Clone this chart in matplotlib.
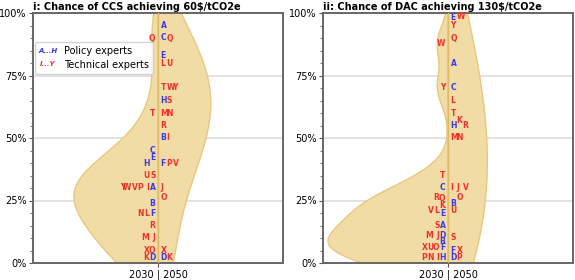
import matplotlib
matplotlib.use("Agg")
import matplotlib.pyplot as plt
from matplotlib.legend_handler import HandlerBase
from matplotlib.text import Text
import numpy as np

# expert letters; G gave no answer in either question
experts = list("ABCDEFGHIJKLMNOPQRSTUVWXY")
policy = set("ABCDEFGH")

ccs_2030 = [30, 24, 45, 0, 42, 20, None, 40, 30, 10, 0, 20, 10, 20, 5, 30, 90, 15, 35, 60, 35, 30, 30, 5, 30]
ccs_2050 = [95, 50, 90, 0, 83, 40, None, 65, 50, 30, 0, 80, 60, 60, 26, 40, 90, 55, 65, 70, 80, 40, 70, 5, 70]
dac_2030 = [15, 8.5, 30, 11, 20, 6, None, 0, 0, 11, 23, 21, 11, 0, 6, 0, 26, 26, 15, 35, 6, 21, 88, 6, 70]
dac_2050 = [80, 24, 70, 0, 98, 5, None, 55, 30, 30, 57, 65, 50, 50, 26, 0, 90, 55, 10, 60, 21, 30, 100, 5, 95]

titles = ["i: Chance of CCS achieving 60\\$/tCO2e", "ii: Chance of DAC achieving 130\\$/tCO2e"]

# smoothing per half (2030, 2050) for each panel
bw_adjust = [(1.15, 1.3), (0.62, 1.5)]

BLUE = "#3a3ae8"
RED = "#f2302a"
FILL = "#f1dca6"
EDGE = "#e8c77f"


def kde(vals, grid, adjust=1.0):
    v = np.asarray([x for x in vals if x is not None], dtype=float)
    bw = adjust * v.std(ddof=1) * len(v) ** (-1 / 5)
    z = (grid[:, None] - v[None, :]) / bw
    return np.exp(-0.5 * z**2).sum(axis=1) / (len(v) * bw * np.sqrt(2 * np.pi))


def place_letters(ax, vals, side, thresh=2.2):
    slots = []  # placed y values per horizontal slot
    for name, v in zip(experts, vals):
        if v is None:
            continue
        y = min(max(v, 2), 98.5)
        k = 0
        while True:
            if k == len(slots):
                slots.append([])
            if all(abs(y - o) >= thresh for o in slots[k]):
                slots[k].append(y)
                break
            k += 1
        x = side * (0.02 + 0.048 * k)
        ax.text(x, y, name, color=BLUE if name in policy else RED,
                ha="left" if side > 0 else "right", va="center",
                fontsize=5.5, fontweight="bold", zorder=4)


class LetterKey:
    def __init__(self, text, color):
        self.text = text
        self.color = color


class LetterHandler(HandlerBase):
    def create_artists(self, legend, orig, xdescent, ydescent, width, height, fontsize, trans):
        t = Text(width / 2 - xdescent, height / 2 - ydescent, orig.text, color=orig.color,
                 ha="center", va="center", fontsize=5, fontweight="bold",
                 fontstyle="italic", transform=trans)
        return [t]


grid = np.linspace(-40, 140, 600)
panels = [(ccs_2030, ccs_2050), (dac_2030, dac_2050)]
dens = [(kde(a, grid, bw_adjust[i][0]), kde(b, grid, bw_adjust[i][1]))
        for i, (a, b) in enumerate(panels)]
scale = 0.96 / max(d.max() for pair in dens for d in pair)

fig = plt.figure(figsize=(5.75, 2.8), dpi=100)
lefts = [33 / 575, 323 / 575]
for i, ((d30, d50), (k30, k50)) in enumerate(zip(panels, dens)):
    ax = fig.add_axes([lefts[i], 17 / 280, 250 / 575, 250 / 280])
    ax.fill_betweenx(grid, 0, -k30 * scale, facecolor=FILL, edgecolor=EDGE, lw=1, zorder=2)
    ax.fill_betweenx(grid, 0, k50 * scale, facecolor=FILL, edgecolor=EDGE, lw=1, zorder=2)
    ax.axvline(0, color="#e0ba66", lw=1, zorder=3)
    for yy in (25, 50, 75):
        ax.axhline(yy, color="#dddddd", lw=1.2, zorder=1)
    place_letters(ax, d30, -1)
    place_letters(ax, d50, 1)

    ax.set_xlim(-1, 1)
    ax.set_ylim(0, 100)
    ax.set_xticks([0])
    ax.set_xticklabels(["2030 | 2050"], fontsize=7)
    ax.set_yticks([0, 25, 50, 75, 100])
    ax.set_yticklabels([f"{t}%" for t in (0, 25, 50, 75, 100)], fontsize=7)
    ax.set_yticks(np.arange(0, 101, 5), minor=True)
    ax.tick_params(axis="both", length=3, width=0.8, color="#555555", pad=1.5)
    ax.tick_params(axis="y", which="minor", length=2, width=0.6, color="#555555")
    for s in ax.spines.values():
        s.set_color("#666666")
        s.set_linewidth(1.4)
    ax.set_title(titles[i], loc="left", fontsize=7, fontweight="bold", pad=2)

    if i == 0:
        keys = [LetterKey("A...H", BLUE), LetterKey("I...Y", RED)]
        ax.legend(keys, ["Policy experts", "Technical experts"],
                  handler_map={LetterKey: LetterHandler()},
                  loc="upper left", bbox_to_anchor=(0.008, 0.885), borderaxespad=0,
                  fontsize=7, framealpha=0.85, handlelength=1.8, handletextpad=0.7,
                  labelspacing=0.35, borderpad=0.45)

fig.savefig("out.png", dpi=100)
